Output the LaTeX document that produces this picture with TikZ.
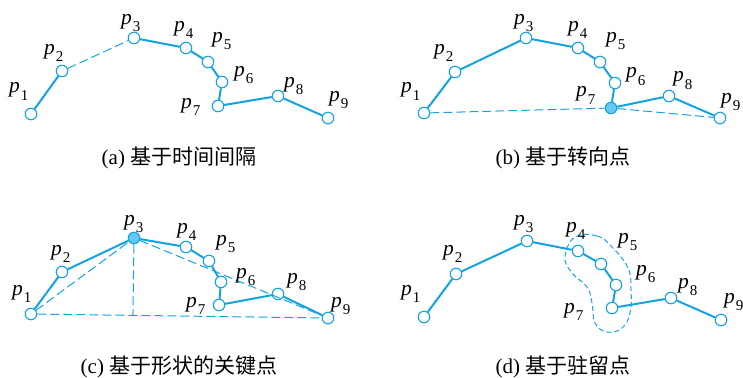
\documentclass[tikz,border=0pt]{standalone}
\usepackage{fontspec}
\setmainfont{Liberation Serif}
\newfontfamily\cjk{Noto Sans CJK SC}
\usetikzlibrary{calc}
\definecolor{lc}{RGB}{20,163,226}
\definecolor{fc}{RGB}{100,200,242}
\tikzset{
 dot/.style={circle,draw=lc,fill=white,line width=1.1pt,minimum size=11.5pt,inner sep=0pt},
 hdot/.style={dot,fill=fc},
 seg/.style={draw=lc,line width=2pt},
 dseg/.style={draw=lc,line width=1pt,dash pattern=on 9pt off 4pt},
 lab/.style={anchor=base west,inner sep=0pt,font=\fontsize{21.5}{22}\selectfont},
 captxt/.style={inner sep=0pt,font=\fontsize{21}{24}\selectfont}
}
\newcommand\pl[1]{\textit{p}\kern1pt\raisebox{-7pt}{\fontsize{15}{15}\selectfont #1}}
\begin{document}
\begin{tikzpicture}[x=1pt,y=-1pt]
\useasboundingbox (0,0) rectangle (743,377);
% ---------- panel (a)
\node[dot] (a1) at (31,114) {};
\node[dot] (a2) at (62,71) {};
\node[dot] (a3) at (134,38) {};
\node[dot] (a4) at (186,48) {};
\node[dot] (a5) at (208,62) {};
\node[dot] (a6) at (222,82) {};
\node[dot] (a7) at (218,106) {};
\node[dot] (a8) at (278,96) {};
\node[dot] (a9) at (328,118) {};
\draw[seg] (a1) -- (a2);
\draw[dseg] (a2) -- (a3);
\draw[seg] (a3) -- (a4);
\draw[seg] (a4) -- (a5);
\draw[seg] (a5) -- (a6);
\draw[seg] (a6) -- (a7);
\draw[seg] (a7) -- (a8);
\draw[seg] (a8) -- (a9);
\node[lab] (la1) at (9,93) {\pl{1}};
\node[lab] (la2) at (44,55) {\pl{2}};
\node[lab] (la3) at (121,25) {\pl{3}};
\node[lab] (la4) at (174,32) {\pl{4}};
\node[lab] (la5) at (212,43) {\pl{5}};
\node[lab] (la6) at (234,77) {\pl{6}};
\node[lab] (la7) at (181,108) {\pl{7}};
\node[lab] (la8) at (284,88) {\pl{8}};
\node[lab] (la9) at (329,102) {\pl{9}};
\node[captxt] (capa) at (179,158) {(a) {\cjk 基于时间间隔}};
% ---------- panel (b)
\node[dot] (b1) at (424,113) {};
\node[dot] (b2) at (455,72) {};
\node[dot] (b3) at (526,38) {};
\node[dot] (b4) at (578,48) {};
\node[dot] (b5) at (600,62) {};
\node[dot] (b6) at (615,83) {};
\node[hdot] (b7) at (611,108) {};
\node[dot] (b8) at (669,96) {};
\node[dot] (b9) at (720,118) {};
\draw[dseg] (b1) -- (b7);
\draw[dseg] (b7) -- (b9);
\draw[seg] (b1) -- (b2);
\draw[seg] (b2) -- (b3);
\draw[seg] (b3) -- (b4);
\draw[seg] (b4) -- (b5);
\draw[seg] (b5) -- (b6);
\draw[seg] (b6) -- (b7);
\draw[seg] (b7) -- (b8);
\draw[seg] (b8) -- (b9);
\node[lab] (lb1) at (401,93) {\pl{1}};
\node[lab] (lb2) at (434,55) {\pl{2}};
\node[lab] (lb3) at (514,25) {\pl{3}};
\node[lab] (lb4) at (568,32) {\pl{4}};
\node[lab] (lb5) at (606,43) {\pl{5}};
\node[lab] (lb6) at (626,78) {\pl{6}};
\node[lab] (lb7) at (576,97) {\pl{7}};
\node[lab] (lb8) at (673,82) {\pl{8}};
\node[lab] (lb9) at (721,103) {\pl{9}};
\node[captxt] (capb) at (563,158) {(b) {\cjk 基于转向点}};
% ---------- panel (c)
\node[dot] (c1) at (31,314) {};
\node[dot] (c2) at (62,272) {};
\node[hdot] (c3) at (134,238) {};
\node[dot] (c4) at (186,247) {};
\node[dot] (c5) at (209,261) {};
\node[dot] (c6) at (221,282) {};
\node[dot] (c7) at (219,305) {};
\node[dot] (c8) at (278,294) {};
\node[dot] (c9) at (328,318) {};
\coordinate (cf) at ($(c1)!(c3)!(c9)$);
\draw[dseg] (c1) -- (c3);
\draw[dseg] (c1) -- (c9);
\draw[dseg] (c3) -- (cf);
\draw[dseg] (c3) -- (c9);
\draw[seg] (c1) -- (c2);
\draw[seg] (c2) -- (c3);
\draw[seg] (c3) -- (c4);
\draw[seg] (c4) -- (c5);
\draw[seg] (c5) -- (c6);
\draw[seg] (c6) -- (c7);
\draw[seg] (c7) -- (c8);
\draw[seg] (c8) -- (c9);
\node[lab] (lc1) at (12,295) {\pl{1}};
\node[lab] (lc2) at (51,255) {\pl{2}};
\node[lab] (lc3) at (124,225) {\pl{3}};
\node[lab] (lc4) at (177,233) {\pl{4}};
\node[lab] (lc5) at (216,245) {\pl{5}};
\node[lab] (lc6) at (236,278) {\pl{6}};
\node[lab] (lc7) at (186,307) {\pl{7}};
\node[lab] (lc8) at (287,283) {\pl{8}};
\node[lab] (lc9) at (331,307) {\pl{9}};
\node[captxt] (capc) at (179,367) {(c) {\cjk 基于形状的关键点}};
% ---------- panel (d)
\node[dot] (d1) at (424,317) {};
\node[dot] (d2) at (456,274) {};
\node[dot] (d3) at (527,241) {};
\node[dot] (d4) at (578,251) {};
\node[dot] (d5) at (601,264) {};
\node[dot] (d6) at (616,285) {};
\node[dot] (d7) at (612,308) {};
\node[dot] (d8) at (671,298) {};
\node[dot] (d9) at (721,320) {};
\draw[seg] (d1) -- (d2);
\draw[seg] (d2) -- (d3);
\draw[seg] (d3) -- (d4);
\draw[seg] (d4) -- (d5);
\draw[seg] (d5) -- (d6);
\draw[seg] (d6) -- (d7);
\draw[seg] (d7) -- (d8);
\draw[seg] (d8) -- (d9);
\draw[dseg,dash pattern=on 5pt off 3pt] plot[smooth cycle,tension=0.7] coordinates {(575,237) (597,236) (612,247) (628,268) (631,290) (630,313) (622,328) (607,332) (595,323) (592,303) (587,287) (572,273) (565,257)};
\node[lab] (ld1) at (401,295) {\pl{1}};
\node[lab] (ld2) at (443,255) {\pl{2}};
\node[lab] (ld3) at (514,225) {\pl{3}};
\node[lab] (ld4) at (566,232) {\pl{4}};
\node[lab] (ld5) at (618,243) {\pl{5}};
\node[lab] (ld6) at (636,275) {\pl{6}};
\node[lab] (ld7) at (564,313) {\pl{7}};
\node[lab] (ld8) at (678,288) {\pl{8}};
\node[lab] (ld9) at (724,303) {\pl{9}};
\node[captxt] (capd) at (563,367) {(d) {\cjk 基于驻留点}};
\end{tikzpicture}
\end{document}
